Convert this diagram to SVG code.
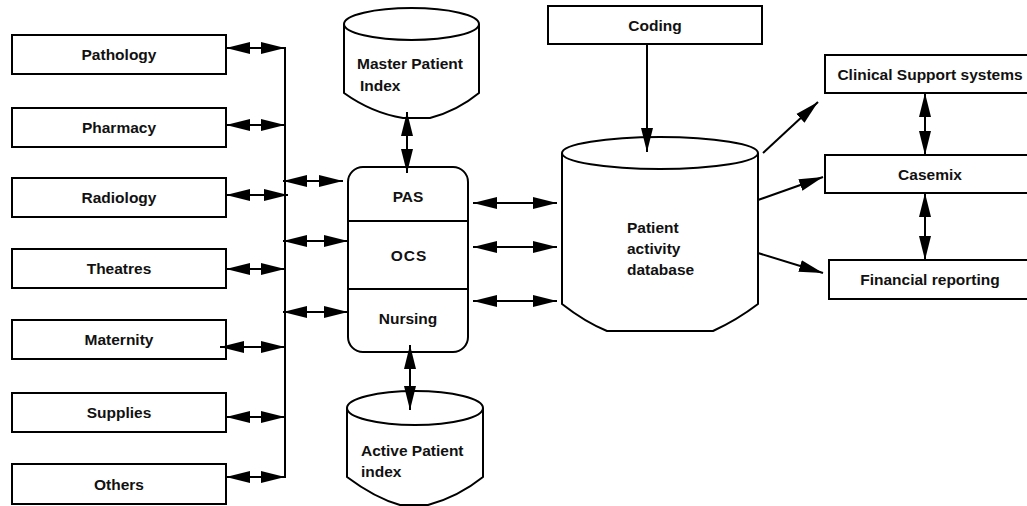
<svg xmlns="http://www.w3.org/2000/svg" width="1027" height="506" viewBox="0 0 1027 506">
  <defs>
    <marker id="head" markerUnits="userSpaceOnUse" markerWidth="25" markerHeight="13" refX="24" refY="6.5" orient="auto-start-reverse">
      <path d="M0,0.5 L24,6.5 L0,12.5 Z" fill="#000"/>
    </marker>
    <style>
      .box { fill: #fff; stroke: #000; stroke-width: 2; }
      .cyl { fill: #fff; stroke: #000; stroke-width: 2; stroke-linejoin: round; }
      .lbl { font-family: "Liberation Sans", Arial, sans-serif; font-weight: bold; font-size: 15.5px; fill: #111; }
      .mid { text-anchor: middle; }
      .wire { fill: none; stroke: #000; stroke-width: 2; }
      .one { fill: none; stroke: #000; stroke-width: 2; marker-end: url(#head); }
      .two { fill: none; stroke: #000; stroke-width: 2; marker-start: url(#head); marker-end: url(#head); }
    </style>
  </defs>

  <!-- Departmental systems -->
  <g id="pathology">
    <rect class="box" x="12" y="35" width="214" height="39"/>
    <text class="lbl mid" x="119" y="60">Pathology</text>
  </g>
  <g id="pharmacy">
    <rect class="box" x="12" y="108" width="214" height="39"/>
    <text class="lbl mid" x="119" y="133">Pharmacy</text>
  </g>
  <g id="radiology">
    <rect class="box" x="12" y="178" width="214" height="39"/>
    <text class="lbl mid" x="119" y="203">Radiology</text>
  </g>
  <g id="theatres">
    <rect class="box" x="12" y="249" width="214" height="39"/>
    <text class="lbl mid" x="119" y="274">Theatres</text>
  </g>
  <g id="maternity">
    <rect class="box" x="12" y="320" width="214" height="39"/>
    <text class="lbl mid" x="119" y="345">Maternity</text>
  </g>
  <g id="supplies">
    <rect class="box" x="12" y="393" width="214" height="39"/>
    <text class="lbl mid" x="119" y="418">Supplies</text>
  </g>
  <g id="others">
    <rect class="box" x="12" y="464" width="214" height="40"/>
    <text class="lbl mid" x="119" y="490">Others</text>
  </g>

  <!-- Master Patient Index store -->
  <g id="master-patient-index">
    <path class="cyl" d="M344,24 L344,93 Q372,113 403,118 L430,118 Q457,111 479,93 L479,24"/>
    <ellipse class="cyl" cx="411.5" cy="24" rx="67.5" ry="16"/>
    <text class="lbl" x="357" y="69">Master Patient</text>
    <text class="lbl" x="360" y="91">Index</text>
  </g>

  <!-- PAS / OCS / Nursing stack -->
  <g id="pas-ocs-nursing">
    <rect class="box" x="348" y="167" width="120" height="185" rx="15" ry="15"/>
    <line class="wire" x1="348" y1="221" x2="468" y2="221"/>
    <line class="wire" x1="348" y1="289" x2="468" y2="289"/>
    <text class="lbl mid" x="408" y="202">PAS</text>
    <text class="lbl mid" x="409" y="261" letter-spacing="1">OCS</text>
    <text class="lbl mid" x="408" y="324">Nursing</text>
  </g>

  <!-- Active Patient index store -->
  <g id="active-patient-index">
    <path class="cyl" d="M347,408 L347,477 Q375,498 400,505 L428,505 Q458,497 483,477 L483,408"/>
    <ellipse class="cyl" cx="415" cy="408" rx="68" ry="17"/>
    <text class="lbl" x="361" y="456">Active Patient</text>
    <text class="lbl" x="361" y="477">index</text>
  </g>

  <!-- Coding -->
  <g id="coding">
    <rect class="box" x="548" y="6" width="214" height="38"/>
    <text class="lbl mid" x="655" y="31">Coding</text>
  </g>

  <!-- Patient activity database -->
  <g id="patient-activity-database">
    <path class="cyl" d="M562,153 L562,304 Q585,322 607,331 L713,331 Q737,320 758,304 L758,153"/>
    <ellipse class="cyl" cx="660" cy="153" rx="98" ry="16"/>
    <text class="lbl" x="627" y="233">Patient</text>
    <text class="lbl" x="627" y="254">activity</text>
    <text class="lbl" x="627" y="275">database</text>
  </g>

  <!-- Downstream systems -->
  <g id="clinical-support">
    <rect class="box" x="825" y="55" width="215" height="38"/>
    <text class="lbl mid" x="930" y="80">Clinical Support systems</text>
  </g>
  <g id="casemix">
    <rect class="box" x="825" y="155" width="215" height="38"/>
    <text class="lbl mid" x="930" y="180">Casemix</text>
  </g>
  <g id="financial-reporting">
    <rect class="box" x="829" y="260" width="211" height="39"/>
    <text class="lbl mid" x="930" y="285">Financial reporting</text>
  </g>

  <!-- Connectors -->
  <g id="connectors">
    <!-- shared bus -->
    <line class="wire" x1="285" y1="47" x2="285" y2="478"/>
    <!-- departments to bus -->
    <line class="two" x1="226" y1="48" x2="285" y2="48"/>
    <line class="two" x1="226" y1="125" x2="285" y2="125"/>
    <line class="two" x1="226" y1="195" x2="288" y2="195"/>
    <line class="two" x1="226" y1="269" x2="285" y2="269"/>
    <line class="two" x1="220" y1="347" x2="285" y2="347"/>
    <line class="two" x1="226" y1="417" x2="285" y2="417"/>
    <line class="two" x1="226" y1="477" x2="285" y2="477"/>
    <!-- bus to PAS stack -->
    <line class="two" x1="283" y1="181" x2="343" y2="181"/>
    <line class="two" x1="283" y1="241" x2="348" y2="241"/>
    <line class="two" x1="283" y1="312" x2="348" y2="312"/>
    <!-- index stores -->
    <line class="two" x1="407" y1="112" x2="407" y2="173"/>
    <line class="two" x1="410" y1="345" x2="410" y2="410"/>
    <!-- PAS stack to database -->
    <line class="two" x1="473" y1="203" x2="557" y2="203"/>
    <line class="two" x1="473" y1="247" x2="557" y2="247"/>
    <line class="two" x1="473" y1="301" x2="557" y2="301"/>
    <!-- coding feed -->
    <line class="one" x1="647" y1="44" x2="647" y2="152"/>
    <!-- database outputs -->
    <line class="one" x1="763" y1="153" x2="818" y2="102"/>
    <line class="one" x1="758" y1="200" x2="823" y2="177"/>
    <line class="one" x1="758" y1="253" x2="823" y2="273"/>
    <!-- casemix links -->
    <line class="two" x1="925" y1="93" x2="925" y2="155"/>
    <line class="two" x1="925" y1="193" x2="925" y2="260"/>
  </g>
</svg>
